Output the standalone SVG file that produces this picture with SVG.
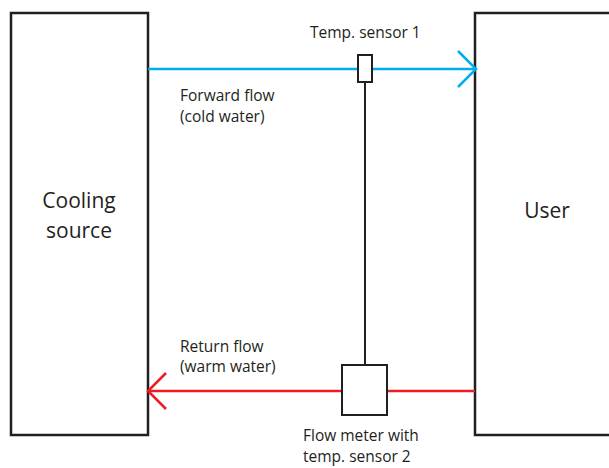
<svg xmlns="http://www.w3.org/2000/svg" width="609" height="468" viewBox="0 0 609 468">
<style>
.box{fill:#fff;stroke:#231f20;stroke-width:2.5}
.dev{fill:#fff;stroke:#231f20;stroke-width:2}
.t{font-family:"Open Sans","Liberation Sans",sans-serif;font-size:15.5px;fill:#231f20}
.big{font-family:"Open Sans","Liberation Sans",sans-serif;font-size:21px;fill:#231f20}
.cold{stroke:#00aeef;stroke-width:2.5;fill:none}
.warm{stroke:#ed1c24;stroke-width:2.5;fill:none}
</style>
<rect width="609" height="468" fill="#fff"/>
<g id="cooling-source">
<rect class="box" x="11" y="13" width="137" height="422"/>
<text class="big" x="79" y="208" text-anchor="middle">Cooling</text>
<text class="big" x="79" y="238" text-anchor="middle">source</text>
</g>
<g id="user">
<rect class="box" x="475" y="13" width="150" height="422"/>
<text class="big" x="547" y="218" text-anchor="middle">User</text>
</g>
<g id="connectors">
<line class="cold" x1="148" y1="69" x2="476" y2="69"/>
<polyline class="cold" points="458,51 476,69 458,87"/>
<line class="warm" x1="148" y1="391" x2="475" y2="391"/>
<polyline class="warm" points="166,373 148,391 166,409"/>
<line x1="365" y1="82" x2="365" y2="365" stroke="#231f20" stroke-width="2"/>
<text class="t" x="180" y="101">Forward flow</text>
<text class="t" x="180" y="122">(cold water)</text>
<text class="t" x="180" y="352">Return flow</text>
<text class="t" x="180" y="372">(warm water)</text>
</g>
<g id="temp-sensor-1">
<rect class="dev" x="358" y="55" width="14" height="27"/>
<text class="t" x="310" y="38">Temp. sensor 1</text>
</g>
<g id="flow-meter">
<rect class="dev" x="342" y="365" width="45" height="50"/>
<text class="t" x="303" y="441">Flow meter with</text>
<text class="t" x="303" y="462">temp. sensor 2</text>
</g>
</svg>
